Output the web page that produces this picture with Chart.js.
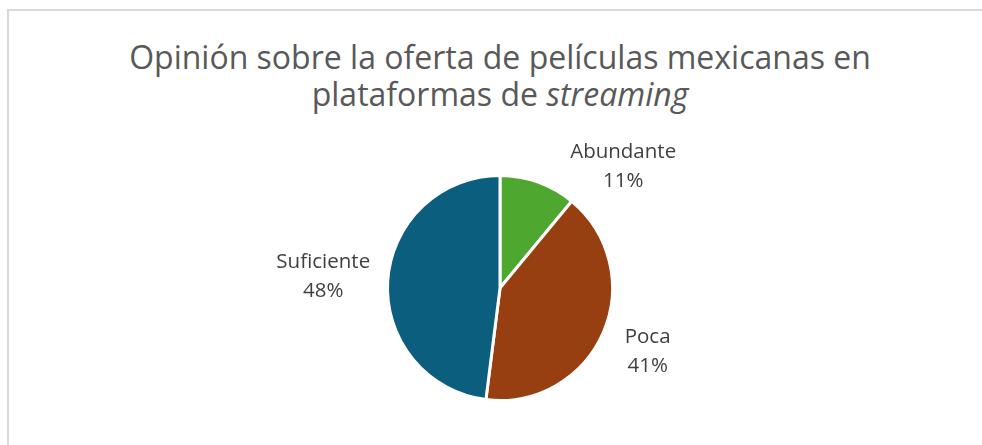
<!DOCTYPE html>
<html>
<head>
<meta charset="utf-8">
<script src="https://cdn.jsdelivr.net/npm/chart.js@4.4.1/dist/chart.umd.min.js"></script>
<style>
  html, body { margin: 0; padding: 0; background: #fff; overflow: hidden; }
  #frame { position: absolute; left: 7px; top: 9px; width: 992px; height: 450px;
           border: 2px solid #d9d9d9; box-sizing: border-box; }
  #title { position: absolute; left: 8px; top: 38px; width: 984px; text-align: center;
           font-family: 'Open Sans', sans-serif; font-size: 32px; line-height: 37px; color: #595959; }
  #myChart { position: absolute; left: 0; top: 0; }
</style>
</head>
<body>
<div id="frame"></div>
<div id="title">Opinión sobre la oferta de películas mexicanas en<br>plataformas de <i>streaming</i></div>
<canvas id="myChart" width="982" height="445"></canvas>
<script>
const categories = ['Abundante', 'Poca', 'Suficiente'];
const values = [11, 41, 48];
const colors = ['#4ea72e', '#973f10', '#0b5e7e'];

// outside-end labels, pushed below the title when they would run into it
const pieLabels = {
    id: 'pieLabels',
    afterDatasetsDraw(chart) {
        const ctx = chart.ctx;
        const meta = chart.getDatasetMeta(0);
        const total = values.reduce((a, b) => a + b, 0);
        const lineH = 28.5;
        const pad = 16;
        const minTop = chart.chartArea.top - 36;
        ctx.save();
        ctx.font = '20.5px "Open Sans"';
        ctx.fillStyle = '#404040';
        ctx.textAlign = 'center';
        ctx.textBaseline = 'middle';
        meta.data.forEach((arc, i) => {
            const p = arc.getProps(['x', 'y', 'startAngle', 'endAngle', 'outerRadius'], true);
            const mid = (p.startAngle + p.endAngle) / 2;
            const dx = Math.cos(mid), dy = Math.sin(mid);
            const lines = [categories[i], Math.round(values[i] / total * 100) + '%'];
            const w = Math.max(...lines.map(t => ctx.measureText(t).width));
            const h = lineH * lines.length;
            const r = p.outerRadius + pad;
            const ext = Math.abs(dx) * w / 2 + Math.abs(dy) * h / 2;
            let cx = p.x + dx * (r + ext);
            let cy = p.y + dy * (r + ext);
            if (cy - h / 2 < minTop) {
                cy = minTop + h / 2;
                const by = p.y - (cy + h / 2);
                const rr = p.outerRadius + 4;
                const edge = Math.abs(by) < rr ? Math.sqrt(rr * rr - by * by) : 0;
                cx = p.x + Math.sign(dx) * (edge + w / 2);
            }
            lines.forEach((t, k) => {
                ctx.fillText(t, cx, cy - h / 2 + lineH * (k + 0.5));
            });
        });
        ctx.restore();
    }
};

new Chart(document.getElementById('myChart').getContext('2d'), {
    type: 'pie',
    data: {
        labels: categories,
        datasets: [{
            data: values,
            backgroundColor: colors,
            borderColor: '#ffffff',
            borderWidth: 3
        }]
    },
    options: {
        responsive: false,
        animation: false,
        layout: { padding: { top: 174, bottom: 43, left: 386, right: 368 } },
        plugins: {
            legend: { display: false },
            tooltip: { enabled: false },
            title: { display: false }
        }
    },
    plugins: [pieLabels]
});
</script>
</body>
</html>
